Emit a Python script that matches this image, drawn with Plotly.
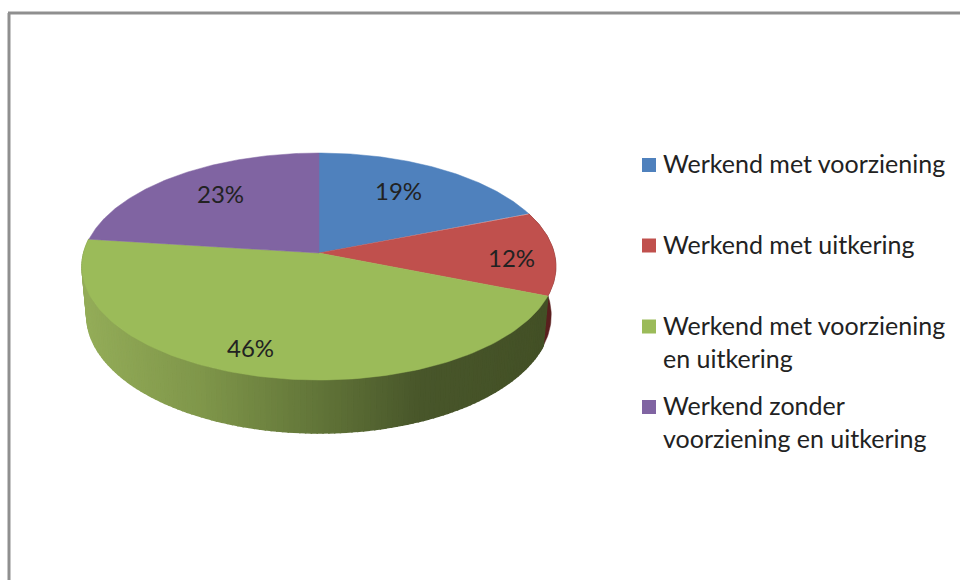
import numpy as np
import plotly.graph_objects as go

# --- data ---
categories = [
    "Werkend met voorziening",
    "Werkend met uitkering",
    "Werkend met voorziening<br>en uitkering",
    "Werkend zonder<br>voorziening en uitkering",
]
shares = [19, 12, 46, 23]
slice_colors = ["#4f81bd", "#c0504d", "#9bbb59", "#8064a2"]
wall_red = "#5a1f1e"

# --- layout of the tilted pie (pixels in a 960x580 coordinate system) ---
APEX_X, APEX_Y = 319, 253
SX, SY, PERSP = 235.3, 111.9, 0.119
WALL_KX, WALL_KY, WALL_DY = 0.98, 1.036, 48.4
FONT = "Lato"
LABEL_POS = [(398.5, 190), (511.5, 257), (250.5, 347), (220.5, 193)]
KEY_X, KEY_TEXT_X = 649, 661
KEY_Y = [165, 245.5, 326.5, 407]
WALL_STOPS = [(85, (147, 172, 88)), (200, (127, 150, 74)), (320, (97, 116, 56)),
              (420, (72, 86, 42)), (547, (67, 80, 38))]


def rim(theta):
    w = 1 + PERSP * np.cos(theta)
    return SX * np.sin(theta) / w, SY * np.cos(theta) / w


def top_pt(theta):
    x, y = rim(theta)
    return APEX_X + x, APEX_Y - y


def bot_pt(theta):
    x, y = rim(theta)
    return APEX_X + WALL_KX * x, APEX_Y - WALL_KY * y + WALL_DY


def wall_color(x):
    xs = [s[0] for s in WALL_STOPS]
    c = [int(round(np.interp(x, xs, [s[1][i] for s in WALL_STOPS]))) for i in range(3)]
    return f"rgb({c[0]},{c[1]},{c[2]})"


fracs = np.cumsum([0] + shares) / sum(shares) * 2 * np.pi
fig = go.Figure()

# side wall of the red slice
t = np.linspace(fracs[1], fracs[2], 40)
xt, yt = top_pt(t)
xb, yb = bot_pt(t)
fig.add_trace(go.Scatter(x=np.r_[xt, xb[::-1]], y=np.r_[yt, yb[::-1]], fill="toself", mode="lines",
                         line=dict(color=wall_red, width=0.5), fillcolor=wall_red,
                         hoverinfo="skip", showlegend=False))

# side wall of the green slice, shaded in narrow strips
edges = np.linspace(fracs[2], fracs[3], 131)
for a, b in zip(edges[:-1], edges[1:]):
    xa, ya = top_pt(a)
    xc, yc = top_pt(b)
    xd, yd = bot_pt(b)
    xe, ye = bot_pt(a)
    col = wall_color((xa + xc) / 2)
    fig.add_trace(go.Scatter(x=[xa, xc, xd, xe, xa], y=[ya, yc, yd, ye, ya], fill="toself", mode="lines",
                             line=dict(color=col, width=1.5), fillcolor=col,
                             hoverinfo="skip", showlegend=False))

# top faces
for i, (name, val, col) in enumerate(zip(categories, shares, slice_colors)):
    t = np.linspace(fracs[i], fracs[i + 1], 120)
    x, y = top_pt(t)
    fig.add_trace(go.Scatter(x=np.r_[APEX_X, x, APEX_X], y=np.r_[APEX_Y, y, APEX_Y], fill="toself", mode="lines",
                             line=dict(color=col, width=0.5), fillcolor=col,
                             name=name.replace("<br>", " "), hovertemplate=f"{val}%<extra></extra>",
                             showlegend=False))

# value labels
annotations = [dict(x=px, y=py, text=f"{v}%", showarrow=False, xref="x", yref="y",
                    font=dict(family=FONT, size=24, color="#222222"))
               for (px, py), v in zip(LABEL_POS, shares)]

# key: swatches and their texts, with the swatch beside the first text line
fig.add_trace(go.Scatter(x=[KEY_X] * len(KEY_Y), y=KEY_Y, mode="markers", hoverinfo="skip", showlegend=False,
                         marker=dict(symbol="square", size=14, color=slice_colors, line=dict(width=0))))
annotations += [dict(x=KEY_TEXT_X, y=ky - 19, text=name, showarrow=False, xref="x", yref="y",
                     xanchor="left", yanchor="top", align="left",
                     font=dict(family=FONT, size=25, color="#222222"))
                for ky, name in zip(KEY_Y, categories)]

# outer frame
shapes = [dict(type="line", x0=9, y0=580, x1=9, y1=13, xref="x", yref="y", line=dict(color="#8f8f8f", width=3)),
          dict(type="line", x0=8, y0=13, x1=960, y1=13, xref="x", yref="y", line=dict(color="#8f8f8f", width=3))]

fig.update_layout(
    width=960, height=580, margin=dict(l=0, r=0, t=0, b=0), showlegend=False,
    paper_bgcolor="white", plot_bgcolor="white",
    xaxis=dict(range=[0, 960], visible=False, fixedrange=True),
    yaxis=dict(range=[580, 0], visible=False, fixedrange=True),
    annotations=annotations, shapes=shapes,
)
fig.write_html("out.html", config={"displayModeBar": False},
               post_script="document.body.style.margin='0';document.documentElement.style.overflow='hidden';")
